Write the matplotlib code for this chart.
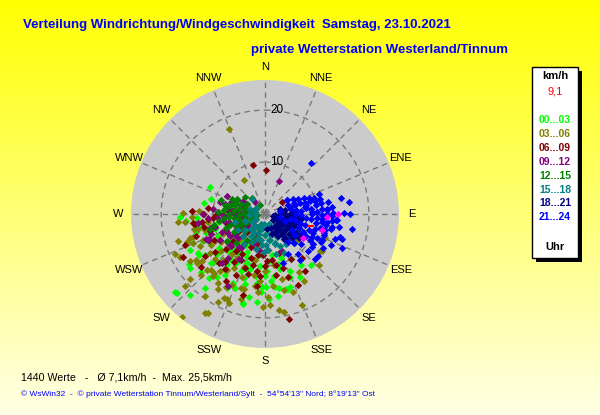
import numpy as np
import matplotlib
matplotlib.use('Agg')
import matplotlib.pyplot as plt
from matplotlib.patches import Rectangle

plt.rcParams['font.family'] = ['Liberation Sans', 'DejaVu Sans']

# wind direction (deg) and speed (km/h), one group per 3 hours
dir_00 = [296, 286, 280, 268, 265, 267, 258, 255, 258, 240, 237, 234, 228, 229, 223, 219, 217, 205, 202, 194,
          191, 187, 221, 138, 151, 161, 177, 172, 169, 194, 228,
          200, 210, 215, 225, 230, 235, 245, 250, 240, 220, 205, 195, 185, 180, 175, 190, 215, 228, 243, 260,
          270, 255, 210, 198, 182, 165, 170, 160, 150, 145, 248, 262, 232, 222, 164, 156, 175, 185,
          188, 196, 203, 208, 213, 218, 226, 233, 238, 246, 252, 178, 172, 166, 158, 183, 192, 207, 217, 236,
          244, 253, 199, 211, 224, 186, 179, 163, 171, 203]
spd_00 = [11.8, 10.8, 12.0, 16.4, 15.2, 13.2, 13.7, 13.7, 12.4, 14.9, 17.5, 17.8, 16.7, 22.9, 21.3, 18.4, 15.3,
          14.7, 15.4, 17.7, 16.2, 13.4, 16.3, 13.3, 13.8, 14.8, 16.4, 14.1, 14.6, 17.9, 22.7,
          10, 11, 9, 10, 12, 9, 10, 8, 7, 7, 8, 11, 10, 12, 9, 7, 13, 14, 12, 9,
          8, 6, 5, 13, 14, 11, 8, 9, 10, 12, 15, 11, 8, 12, 15, 12, 13, 17,
          12, 14, 12, 10, 14, 11, 13, 11, 15, 13, 12, 11, 12, 10, 13, 15, 9, 16, 12, 14,
          16, 10, 11, 7, 9, 8, 14, 15, 16, 9]

dir_03 = [337, 329, 271, 273, 276, 265, 264, 270, 257, 252, 252, 253, 248, 246, 243, 234, 233, 226, 224, 220,
          229, 228, 216, 208, 206, 202, 210, 211, 219, 214, 196, 123, 133, 150, 158, 172, 169, 177, 129, 112, 124,
          240, 245, 230, 220, 210, 200, 190, 185, 180, 165, 160, 250, 258, 235, 215, 225, 195, 170, 205, 262,
          238, 212, 150, 200,
          244, 236, 228, 218, 208, 198, 188, 178, 255, 262, 268, 250, 242, 232, 222, 212, 202, 192, 184, 174,
          166, 258, 247, 226, 214, 204, 237, 221, 196, 181]
spd_03 = [17.8, 7.7, 15.7, 12.7, 10.0, 16.9, 15.4, 11.7, 13.2, 15.2, 14.6, 17.6, 15.0, 18.9, 18.3, 16.2, 15.1,
          15.5, 15.0, 15.5, 19.2, 20.6, 19.5, 19.2, 18.0, 18.5, 22.0, 22.3, 25.5, 16.1, 17.1, 13.0, 14.3, 12.9,
          18.8, 18.7, 19.3, 17.5, 8.0, 12.5, 12.7,
          12, 9, 11, 10, 12, 13, 12, 15, 11, 13, 16, 11, 10, 13, 8, 7, 9, 10, 15, 13,
          17, 17, 15, 5,
          14, 16, 13, 14, 16, 15, 14, 16, 12, 11, 14, 16, 11, 9, 12, 10, 11, 9, 13, 14,
          15, 14, 13, 17, 13, 18, 10, 15, 15, 18]

dir_06 = [346, 1, 272, 262, 249, 253, 269, 271, 263, 274, 255, 195, 145, 167, 160, 54, 242, 263, 270,
          240, 230, 220, 210, 200, 190, 180, 170, 250, 260, 245, 235, 225, 215, 205, 195, 185, 175, 160, 150,
          265, 280, 240, 220, 200, 230, 210, 155, 140, 265,
          248, 256, 238, 228, 218, 208, 198, 188, 178, 168, 243, 233, 223, 213, 203, 193, 183, 258, 266, 276,
          252, 236, 226, 206, 196, 186, 172, 162, 246, 216]
spd_06 = [9.7, 8.4, 14.0, 13.6, 16.5, 11.1, 9.4, 9.0, 12.3, 6.9, 7.6, 16.1, 13.3, 20.7, 12.9, 4.0, 17.8, 14.0, 11.9,
          10, 8, 12, 9, 11, 8, 10, 12, 6, 5, 12, 14, 5, 7, 13, 6, 12, 7, 8, 10,
          8, 5, 4, 3, 4, 16, 15, 15, 11, 11,
          8, 10, 6, 10, 9, 10, 9, 11, 9, 10, 11, 12, 13, 11, 7, 10, 8, 12, 10, 11,
          14, 7, 9, 6, 12, 14, 9, 11, 5, 13]

dir_09 = [23, 266, 275, 283, 246, 207, 247, 156, 221, 281, 271, 246,
          250, 260, 270, 280, 290, 300, 255, 265, 245, 235, 240, 230, 225, 215, 285, 275, 295, 290, 320, 260,
          240, 220, 210, 250, 270, 262, 280, 200, 190, 230, 300,
          252, 258, 264, 268, 272, 278, 284, 288, 244, 238, 232, 226, 248, 256, 262, 276, 286, 296, 242, 234,
          228, 218, 272, 266, 254]
spd_09 = [7.0, 7.7, 5.3, 4.9, 12.1, 15.5, 12.3, 7.9, 12.5, 7.2, 5.4, 11.9,
          6, 8, 6, 7, 5, 4, 10, 9, 8, 7, 10, 9, 6, 8, 9, 10, 8, 7, 3, 3,
          5, 11, 10, 11, 12, 13, 2, 6, 7, 4, 5,
          5, 7, 5, 8, 9, 6, 8, 6, 6, 8, 7, 9, 9, 11, 4, 4, 4, 6, 4, 5,
          7, 8, 3, 11, 7]

dir_12 = [277, 285, 270, 275, 280, 265, 260, 255, 285, 290, 300, 250, 245, 240, 262, 272, 283, 295, 310, 320,
          240, 230, 220, 210, 200, 250, 258, 268, 278, 288, 235, 225, 215, 205, 190, 180, 265, 300, 330, 255, 287,
          268, 274, 282, 262, 256, 248, 242, 236, 276, 292, 298, 286, 252, 264, 270, 280, 244, 226, 258, 272]
spd_12 = [7.8, 6.8, 4, 6, 5, 7, 5, 3, 3, 6, 4, 6, 4, 7, 9, 9, 8, 7, 5, 4,
          2, 5, 4, 3, 3, 8, 10, 3, 2, 9, 9, 8, 6, 5, 5, 4, 1.5, 2, 2, 11, 6.0,
          5, 4, 7, 6, 4, 5, 6, 5, 8, 5, 6, 4, 7, 8, 7, 3, 3, 6, 2, 2]

dir_15 = [319, 155, 182, 122, 169, 161, 132, 154, 91, 108,
          102, 108, 121, 129, 141, 148, 162, 171, 179, 191, 198, 211, 219, 232, 238, 251, 262, 268, 281, 289, 302,
          135, 145, 165, 175, 185, 195, 205, 215, 225, 90, 95, 115, 125, 240, 255, 200, 160, 120, 80,
          112, 126, 138, 152, 166, 178, 188, 204, 222, 244, 132, 158, 174, 196, 118, 142, 186, 212]
spd_15 = [3.7, 6.9, 7.3, 3.4, 5.1, 5.9, 6.5, 8.4, 6.1, 5.7,
          5, 6, 4, 6, 5, 4, 6, 5, 4, 3, 5, 4, 3, 5, 3, 4, 2, 3, 2, 3, 2,
          8, 7, 8, 7, 6, 7, 6, 7, 6, 6, 4, 8, 7, 6, 6, 2, 2, 2, 3,
          4, 5, 4, 5, 4, 6, 5, 3, 4, 2, 3, 3, 3, 4, 7, 6, 2, 5]

dir_18 = [87, 93, 97, 101, 104, 109, 112, 117, 121, 124, 129, 131, 137, 141, 144, 149, 152, 157, 84, 79,
          98, 106, 113, 122, 128, 139, 146, 118, 110, 102, 95, 90, 126, 134, 142, 161, 171, 75, 70, 115, 105, 125,
          92, 99, 107, 115, 123, 131, 96, 104, 111, 119, 127, 135, 100, 108, 116, 88, 94, 120]
spd_18 = [3, 5, 4, 6, 3, 5, 7, 4, 6, 3, 5, 7, 4, 6, 3, 5, 4, 3, 6, 4,
          7, 7, 6, 7, 2, 5, 4, 8, 2, 1.5, 2, 6, 8, 3, 6, 4, 3, 5, 3, 3, 4, 5,
          4, 5, 6, 5, 4, 6, 6, 4, 3, 5, 7, 5, 2.5, 5, 3, 5, 7, 4]

dir_21 = [42, 78, 82, 90, 89, 89, 95, 101, 85, 79, 110, 108, 84, 80, 68, 73, 114, 132, 107, 105, 114, 131, 143, 100,
          58, 65, 70, 75, 80, 85, 90, 95, 100, 105, 110, 115, 120, 125, 70, 80, 90, 100, 110, 120,
          85, 95, 105, 115, 125, 90, 100, 75, 72, 62, 70, 130, 135, 140, 120, 95, 100, 88, 92, 110,
          82, 68, 58, 140, 150, 160, 100, 80, 115, 128,
          72, 78, 84, 88, 94, 98, 104, 108, 112, 118, 76, 86, 96, 106, 116, 122, 82, 92, 102, 112,
          87, 97, 107, 117, 74, 79, 84, 91, 96, 103]
spd_21 = [13.1, 14.9, 16.3, 16.3, 13.1, 15.3, 13.8, 13.2, 11.9, 12.4, 14.3, 15.6, 9.0, 7.8, 4.7, 6.0, 16.3, 12.9,
          15.1, 11.3, 12.1, 11.0, 11.1, 17.1,
          5, 7, 9, 8, 10, 7, 9, 8, 10, 7, 9, 8, 10, 7, 6, 5, 6, 5, 4, 6,
          11, 11, 12, 11, 11, 12, 12, 11, 10, 6, 11, 9, 8, 10, 13, 14, 14.5, 10, 13, 12,
          8, 8, 5, 7, 9, 10, 3, 3, 14, 13,
          7, 8, 9, 10, 10, 11, 11, 12, 10, 9, 10, 12, 9, 8, 10, 11, 6, 7, 6, 7,
          9, 12, 10, 12, 9, 11, 13, 11, 13, 13]

dir_mag = [90, 93, 106, 122]
spd_mag = [14.1, 11.9, 11.5, 8.7]
dir_now = [105]
spd_now = [9.1]

groups = [
    ('00...03', '#00FF00', dir_00, spd_00),
    ('03...06', '#808000', dir_03, spd_03),
    ('06...09', '#800000', dir_06, spd_06),
    ('09...12', '#800080', dir_09, spd_09),
    ('12...15', '#008000', dir_12, spd_12),
    ('15...18', '#008080', dir_15, spd_15),
    ('18...21', '#000080', dir_18, spd_18),
    ('21...24', '#0000FF', dir_21, spd_21),
]
compass = ['N', 'NNE', 'NE', 'ENE', 'E', 'ESE', 'SE', 'SSE',
           'S', 'SSW', 'SW', 'WSW', 'W', 'WNW', 'NW', 'NNW']
rings = [10, 20]
r_max = 25.8

W, H = 600, 415
fig = plt.figure(figsize=(W / 100, H / 100), dpi=100)

# yellow background, fading downwards
bg = fig.add_axes([0, 0, 1, 1])
bg.axis('off')
t = np.linspace(0, 1, 256)
img = np.ones((256, 1, 3))
img[:, 0, 2] = 0.9 * t
bg.imshow(img, aspect='auto', extent=[0, 1, 0, 1])

# polar plot: centre (265, 214) px, radius 134 px
cx, cy, rad = 265, 214, 134
ax = fig.add_axes([(cx - rad) / W, 1 - (cy + rad) / H, 2 * rad / W, 2 * rad / H], projection='polar')
ax.set_facecolor('#CBCBCB')
ax.set_theta_zero_location('N')
ax.set_theta_direction(-1)
ax.set_ylim(0, r_max)
ax.set_thetagrids(np.arange(0, 360, 22.5), labels=[''] * 16)
ax.set_rgrids(rings, labels=['', ''])
ax.grid(True, color='#7a7a7a', linestyle=(0, (4, 3)), linewidth=1)
ax.set_axisbelow(True)
ax.spines['polar'].set_visible(False)
ax.tick_params(length=0, pad=0)

for name, col, d, s in groups:
    ax.scatter(np.deg2rad(d), s, marker='D', s=14, color=col, linewidths=0, zorder=3)
ax.scatter(np.deg2rad(dir_mag), spd_mag, marker='D', s=14, color='#FF00FF', linewidths=0, zorder=4)
ax.scatter(np.deg2rad(dir_now), spd_now, marker='_', s=14, color='#FF0000', linewidths=1.2, zorder=5)

for i, lab in enumerate(compass):
    ax.text(np.deg2rad(i * 22.5), 28.3, lab, ha='center', va='center', fontsize=8, clip_on=False)
for r in rings:
    ax.annotate(str(r), xy=(0, r), xytext=(5, 0), textcoords='offset pixels',
                ha='left', va='center', fontsize=8.5, zorder=6)

# titles
blue = '#0000FF'
fig.text(23 / W, 1 - 25 / H, 'Verteilung Windrichtung/Windgeschwindigkeit  Samstag, 23.10.2021',
         color=blue, fontsize=9.5, fontweight='bold', ha='left', va='center')
fig.text(251 / W, 1 - 50 / H, 'private Wetterstation Westerland/Tinnum',
         color=blue, fontsize=9.5, fontweight='bold', ha='left', va='center')

# footer
fig.text(21 / W, 1 - 377 / H, '1440 Werte   -   Ø 7,1km/h  -  Max. 25,5km/h',
         color='black', fontsize=7.7, ha='left', va='center')
fig.text(21 / W, 1 - 394 / H,
         '© WsWin32  -  © private Wetterstation Tinnum/Westerland/Sylt  -  54°54\'13" Nord; 8°19\'13" Ost',
         color=blue, fontsize=6, ha='left', va='center')

# legend box with shadow
lx0, lx1, ly0, ly1 = 532, 578, 67, 258
fig.patches.append(Rectangle(((lx0 + 4) / W, 1 - (ly1 + 4) / H), (lx1 - lx0) / W, (ly1 - ly0) / H,
                             transform=fig.transFigure, facecolor='black', edgecolor='none', zorder=1))
fig.patches.append(Rectangle((lx0 / W, 1 - ly1 / H), (lx1 - lx0) / W, (ly1 - ly0) / H,
                             transform=fig.transFigure, facecolor='white', edgecolor='black',
                             linewidth=1, zorder=2))
lxc = (lx0 + lx1) / 2 / W
fig.text(lxc, 1 - 76 / H, 'km/h', ha='center', va='center', fontsize=8, fontweight='bold', zorder=3)
fig.text(lxc, 1 - 92 / H, '9,1', ha='center', va='center', fontsize=8, color='#FF0000', zorder=3)
for k, (name, col, d, s) in enumerate(groups):
    fig.text(lxc, 1 - (120 + 13.9 * k) / H, name, ha='center', va='center', fontsize=7.5,
             fontweight='bold', color=col, zorder=3)
fig.text(lxc, 1 - 247 / H, 'Uhr', ha='center', va='center', fontsize=8, fontweight='bold', zorder=3)

fig.savefig('out.png', dpi=100)
